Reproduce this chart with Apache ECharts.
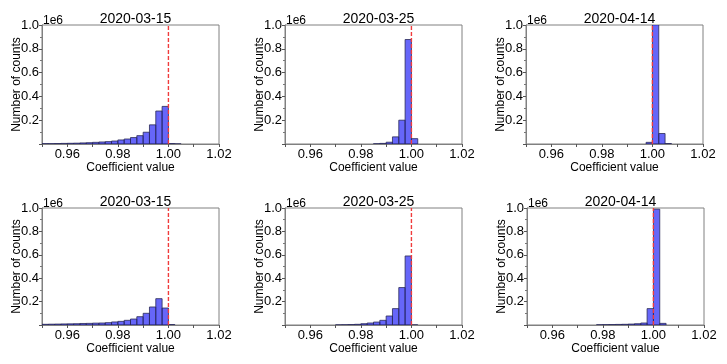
<!DOCTYPE html>
<html>
<head>
<meta charset="utf-8">
<script src="https://cdn.jsdelivr.net/npm/echarts@6/dist/echarts.min.js"></script>
<style>
  html, body { margin: 0; padding: 0; background: #fff; }
  #main { width: 727px; height: 364px; }
</style>
</head>
<body>
<div id="main"></div>
<script>
// histogram bins: left edges start at 0.95, width 0.0025
const binStart = 0.95;
const binWidth = 0.0025;

const titles = ["2020-03-15", "2020-03-25", "2020-04-14", "2020-03-15", "2020-03-25", "2020-04-14"];

// counts per bin (bin i covers binStart + i*binWidth .. + binWidth)
const counts0315a = [3000, 3000, 4000, 5000, 6000, 7000, 9000, 11000, 14000, 17000, 20000, 25000, 34000, 42000, 54000, 70000, 99000, 161000, 277000, 316000, 4000, 1000, 0];
const counts0325a = [0, 0, 0, 0, 0, 0, 0, 0, 0, 0, 0, 0, 0, 0, 2000, 5000, 15000, 60000, 200000, 878000, 45000, 0, 0];
const counts0414a = [0, 0, 0, 0, 0, 0, 0, 0, 0, 0, 0, 0, 0, 0, 0, 0, 0, 0, 0, 14000, 1050000, 88000, 4000];
const counts0315b = [6000, 7000, 8000, 9000, 10000, 11000, 13000, 14000, 16000, 17000, 20000, 26000, 31000, 40000, 51000, 71000, 100000, 154000, 225000, 145000, 4000, 0, 0];
const counts0325b = [0, 0, 0, 0, 0, 0, 0, 0, 1000, 2000, 4000, 6000, 11000, 17000, 25000, 40000, 77000, 140000, 320000, 590000, 1000, 0, 0];
const counts0414b = [0, 0, 0, 0, 0, 0, 0, 0, 0, 0, 0, 2000, 3000, 4000, 5000, 6000, 8000, 11000, 17000, 140000, 990000, 14000, 0];

const panels = [counts0315a, counts0325a, counts0414a, counts0315b, counts0325b, counts0414b];

const refValue = 1.0;
const xTicks = [0.96, 0.98, 1.00, 1.02];

// layout of the six plot areas
const gridBoxes = [
  { left: 42, top: 25, width: 177, height: 119 },
  { left: 285, top: 25, width: 177, height: 119 },
  { left: 526, top: 25, width: 177, height: 119 },
  { left: 42, top: 208, width: 177, height: 117 },
  { left: 285, top: 208, width: 177, height: 117 },
  { left: 527, top: 208, width: 177, height: 117 },
];

const font = "Liberation Sans";
const chart = echarts.init(document.getElementById("main"), null, { renderer: "canvas" });

const grid = [], xAxis = [], yAxis = [], series = [], title = [], graphic = [];

gridBoxes.forEach((g, k) => {
  grid.push({
    left: g.left, top: g.top, width: g.width, height: g.height,
    show: true, borderColor: "#808080", borderWidth: 1, containLabel: false,
  });
  xAxis.push({
    type: "value", gridIndex: k, min: 0.95, max: 1.02, interval: 0.01,
    axisLine: { show: true, lineStyle: { color: "#808080" } },
    axisTick: { show: true, length: 3, lineStyle: { color: "#555" } },
    splitLine: { show: false },
    axisLabel: {
      color: "#000", fontFamily: font, fontSize: 13, margin: 4,
      formatter: (v) => (xTicks.some((t) => Math.abs(t - v) < 1e-6) ? v.toFixed(2) : ""),
    },
    name: "Coefficient value", nameLocation: "middle", nameGap: 18, nameMoveOverlap: false,
    nameTextStyle: { color: "#000", fontFamily: font, fontSize: 12, verticalAlign: "top" },
  });
  yAxis.push({
    type: "value", gridIndex: k, min: 0, max: 1000000, interval: 200000,
    axisLine: { show: true, lineStyle: { color: "#808080" } },
    axisTick: { show: true, length: 3, lineStyle: { color: "#555" } },
    minorTick: { show: true, splitNumber: 2, length: 2, lineStyle: { color: "#777" } },
    splitLine: { show: false },
    axisLabel: {
      color: "#000", fontFamily: font, fontSize: 13, margin: 3,
      formatter: (v) => (v === 0 ? "" : (v / 1e6).toFixed(1)),
    },
    name: "Number of counts", nameLocation: "middle", nameGap: 19, nameRotate: 90, nameMoveOverlap: false,
    nameTextStyle: { color: "#000", fontFamily: font, fontSize: 12 },
  });
  title.push({
    text: titles[k], left: g.left + g.width / 2, top: g.top - 18, textAlign: "center",
    textStyle: { color: "#000", fontFamily: font, fontSize: 14, fontWeight: "normal" },
  });
  graphic.push({
    type: "text", left: g.left + 1, top: g.top - 10,
    style: { text: "1e6", fill: "#000", font: "12px " + font },
  });

  const data = panels[k].map((c, i) => [binStart + i * binWidth, c]).filter((d) => d[1] > 0);
  series.push({
    type: "custom", xAxisIndex: k, yAxisIndex: k, clip: true,
    data: data,
    renderItem: (params, api) => {
      const x0 = api.value(0);
      const p0 = api.coord([x0, 0]);
      const p1 = api.coord([x0 + binWidth, api.value(1)]);
      return {
        type: "rect",
        shape: { x: p0[0], y: p1[1], width: p1[0] - p0[0], height: p0[1] - p1[1] },
        style: { fill: "rgba(0,0,245,0.6)", stroke: "#2a2a55", lineWidth: 0.8 },
      };
    },
    silent: true,
  });
  series.push({
    type: "line", xAxisIndex: k, yAxisIndex: k, symbol: "none", silent: true,
    data: [[refValue, 0], [refValue, 1000000]],
    lineStyle: { color: "#f03c3c", width: 1.4, type: [4, 2] },
    z: 5,
  });
});

chart.setOption({
  animation: false,
  backgroundColor: "#fff",
  title, grid, xAxis, yAxis, series, graphic,
});
</script>
</body>
</html>
